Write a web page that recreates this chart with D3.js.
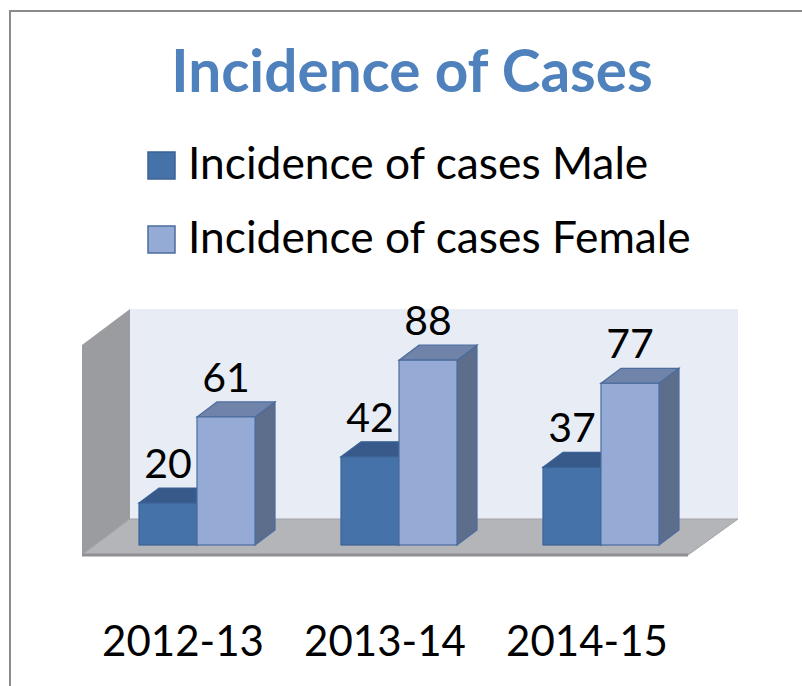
<!DOCTYPE html>
<html>
<head>
<meta charset="utf-8">
<script src="https://d3js.org/d3.v7.min.js"></script>
<style>
  body { margin: 0; background: #fff; }
  text { font-family: Lato, "Open Sans", sans-serif; }
</style>
</head>
<body>
<div id="chart"></div>
<script>
// data
var categories = ["2012-13", "2013-14", "2014-15"];
var seriesNames = ["Incidence of cases Male", "Incidence of cases Female"];
var maleValues = [20, 42, 37];
var femaleValues = [61, 88, 77];
var chartTitle = "Incidence of Cases";

var colors = [
  {front: "#4672aa", top: "#375a8b", side: "#2f4e78", edge: "#3b6295"},
  {front: "#95abd5", top: "#6f84a8", side: "#5d6e8c", edge: "#4b6c9e"}
];

var width = 802, height = 686;

var svg = d3.select("#chart")
  .append("svg")
    .attr("width", width)
    .attr("height", height);

// outer frame
svg.append("rect")
  .attr("x", 10).attr("y", 11)
  .attr("width", 820).attr("height", 700)
  .attr("fill", "#fff")
  .attr("stroke", "#8a8a8a")
  .attr("stroke-width", 2);

// title
svg.append("text")
  .attr("x", 412)
  .attr("y", 92)
  .attr("text-anchor", "middle")
  .style("font-size", "58.5px")
  .style("font-weight", "bold")
  .attr("fill", "#4f81bd")
  .text(chartTitle);

// legend
var legend = svg.selectAll(".legend")
  .data(seriesNames)
  .enter()
  .append("g")
    .attr("transform", function(d, i) { return "translate(148," + (152 + i * 74) + ")"; });

legend.append("rect")
  .attr("width", 27).attr("height", 27)
  .attr("fill", function(d, i) { return colors[i].front; })
  .attr("stroke", function(d, i) { return colors[i].edge; })
  .attr("stroke-width", 1.5);

legend.append("text")
  .attr("x", 40)
  .attr("y", 27)
  .style("font-size", "44.3px")
  .attr("fill", "#000")
  .text(function(d) { return d; });

// scales
var x = d3.scaleBand()
  .domain(categories)
  .range([96, 702])
  .paddingInner(0.4257)
  .paddingOuter(0.2129);

var xSub = d3.scaleBand()
  .domain([0, 1])
  .range([0, x.bandwidth()]);

var y = d3.scaleLinear()
  .domain([0, 100])
  .range([545, 335]);

// depth offsets
var wallDx = 48, wallDy = -36;
var barDx = 20, barDy = -15;

var floorFrontY = 555, wallLeft = 130, wallRight = 738, wallTop = 309;
var floorBackY = floorFrontY + wallDy;

// back wall
svg.append("rect")
  .attr("x", wallLeft).attr("y", wallTop)
  .attr("width", wallRight - wallLeft)
  .attr("height", floorBackY - wallTop)
  .attr("fill", "#e8ecf5");

// side wall
svg.append("polygon")
  .attr("points", [
    [wallLeft - wallDx, wallTop - wallDy],
    [wallLeft, wallTop],
    [wallLeft, floorBackY],
    [wallLeft - wallDx, floorFrontY]
  ].join(" "))
  .attr("fill", "#9b9c9f");

// floor
svg.append("polygon")
  .attr("points", [
    [wallLeft - wallDx, floorFrontY],
    [wallLeft, floorBackY],
    [wallRight, floorBackY],
    [wallRight - wallDx - 2, floorFrontY]
  ].join(" "))
  .attr("fill", "#b4b5b8")
  .attr("stroke", "#a3a4a7")
  .attr("stroke-width", 1);

svg.append("line")
  .attr("x1", wallLeft - wallDx).attr("x2", wallRight - wallDx - 2)
  .attr("y1", floorFrontY).attr("y2", floorFrontY)
  .attr("stroke", "#8f9093")
  .attr("stroke-width", 3);

// bars
var barData = [];
categories.forEach(function(c, i) {
  barData.push({cat: c, s: 0, value: maleValues[i]});
  barData.push({cat: c, s: 1, value: femaleValues[i]});
});

var bars = svg.selectAll(".bar")
  .data(barData)
  .enter()
  .append("g")
    .attr("class", "bar");

function x0(d) { return x(d.cat) + xSub(d.s); }
function x1(d) { return x0(d) + xSub.bandwidth(); }

// side face
bars.append("polygon")
  .attr("points", function(d) {
    return [[x1(d), y(d.value)], [x1(d) + barDx, y(d.value) + barDy],
            [x1(d) + barDx, y(0) + barDy], [x1(d), y(0)]].join(" ");
  })
  .attr("fill", function(d) { return colors[d.s].side; })
  .attr("stroke", function(d) { return colors[d.s].edge; })
  .attr("stroke-width", 1.2);

// top face
bars.append("polygon")
  .attr("points", function(d) {
    return [[x0(d), y(d.value)], [x0(d) + barDx, y(d.value) + barDy],
            [x1(d) + barDx, y(d.value) + barDy], [x1(d), y(d.value)]].join(" ");
  })
  .attr("fill", function(d) { return colors[d.s].top; })
  .attr("stroke", function(d) { return colors[d.s].edge; })
  .attr("stroke-width", 1.2);

// front face
bars.append("rect")
  .attr("x", x0)
  .attr("y", function(d) { return y(d.value); })
  .attr("width", xSub.bandwidth())
  .attr("height", function(d) { return y(0) - y(d.value); })
  .attr("fill", function(d) { return colors[d.s].front; })
  .attr("stroke", function(d) { return colors[d.s].edge; })
  .attr("stroke-width", 1.2);

// value labels
svg.selectAll(".label")
  .data(barData)
  .enter()
  .append("text")
    .attr("x", function(d) { return x0(d) + xSub.bandwidth() / 2; })
    .attr("y", function(d) { return y(d.value) - 25; })
    .attr("text-anchor", "middle")
    .style("font-size", "41px")
    .attr("fill", "#000")
    .text(function(d) { return d.value; });

// category labels
svg.selectAll(".cat")
  .data(categories)
  .enter()
  .append("text")
    .attr("x", function(d) { return x(d) + x.bandwidth() / 2 - 14; })
    .attr("y", 656)
    .attr("text-anchor", "middle")
    .style("font-size", "42px")
    .attr("fill", "#000")
    .text(function(d) { return d; });
</script>
</body>
</html>
